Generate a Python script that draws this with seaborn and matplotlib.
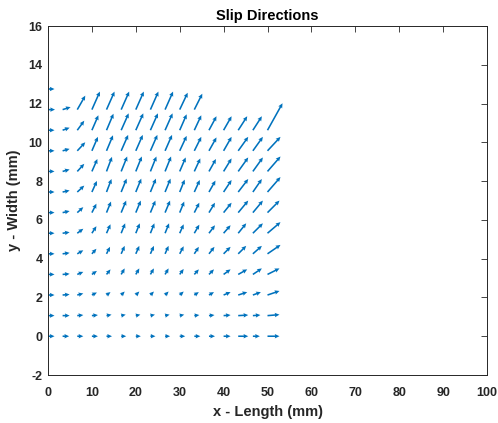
import numpy as np
import matplotlib
matplotlib.use("Agg")
import matplotlib.pyplot as plt
import seaborn as sns

nan = np.nan

# grid (mm)
x_pos = [0.0, 3.33, 6.67, 10.0, 13.33, 16.67, 20.0, 23.33, 26.67, 30.0, 33.33, 36.67, 40.0, 43.33, 46.67, 50.0]
y_pos = [0.0, 1.0625, 2.125, 3.1875, 4.25, 5.3125, 6.375, 7.4375, 8.5, 9.5625, 10.625, 11.6875, 12.75]

# slip direction components (as displayed, mm) — rows follow y_pos, columns follow x_pos
U = [
    [1.48,1.48,1.37,1.37,1.25,1.14,1.14,1.14,1.14,1.25,1.37,1.37,1.59,2.28,1.59,2.73],
    [1.48,1.59,1.37,1.37,1.14,1.03,1.03,1.03,1.03,1.03,1.14,1.25,1.59,2.28,1.71,2.73],
    [1.48,1.59,1.37,1.14,0.91,0.80,0.80,0.80,0.80,0.91,1.03,1.14,1.59,2.05,1.82,2.73],
    [1.48,1.59,1.37,1.14,0.91,0.80,0.80,0.80,0.80,0.91,1.03,1.14,1.59,2.05,2.05,2.73],
    [1.48,1.59,1.37,1.03,0.80,0.80,0.80,0.80,0.80,0.91,1.03,1.25,1.59,1.82,2.05,2.96],
    [1.48,1.59,1.37,1.03,0.91,0.91,0.91,0.91,0.91,0.91,1.14,1.37,1.59,1.82,2.28,2.96],
    [1.48,1.59,1.37,1.03,1.03,1.14,1.14,1.14,1.14,1.03,1.14,1.37,1.82,2.28,2.28,2.73],
    [1.48,1.59,1.59,1.14,1.14,1.25,1.25,1.25,1.25,1.14,1.25,1.48,1.82,2.28,2.05,2.96],
    [1.48,1.59,1.59,1.25,1.25,1.37,1.37,1.37,1.37,1.37,1.37,1.59,1.82,2.28,2.28,2.96],
    [1.48,1.59,1.82,1.37,1.48,1.59,1.59,1.59,1.59,1.59,1.59,1.71,1.82,2.28,2.28,2.96],
    [1.48,1.59,1.59,1.48,1.59,1.71,1.71,1.71,1.71,1.59,1.59,1.71,1.82,2.05,2.05,3.42],
    [1.59,1.82,1.82,1.82,1.82,1.82,1.82,1.82,1.82,1.82,1.82,nan,nan,nan,nan,nan],
    [1.48,nan,nan,nan,nan,nan,nan,nan,nan,nan,nan,nan,nan,nan,nan,nan],
]
V = [
    [0,0,0,0,0,0,0,0,0,0,0,0,0,0,0,0],
    [0,0,0.03,0.03,0.05,0.05,0.05,0.05,0.05,0.05,0.03,0.03,0.03,0.03,0.03,0.05],
    [0,0.03,0.08,0.13,0.15,0.18,0.18,0.18,0.18,0.18,0.15,0.15,0.15,0.15,0.15,0.21],
    [0,0.03,0.13,0.18,0.26,0.31,0.31,0.31,0.31,0.28,0.26,0.26,0.26,0.26,0.31,0.31],
    [0,0.05,0.18,0.26,0.36,0.41,0.41,0.41,0.41,0.39,0.36,0.36,0.36,0.41,0.41,0.46],
    [0,0.05,0.23,0.36,0.46,0.51,0.51,0.51,0.51,0.46,0.44,0.41,0.41,0.51,0.51,0.57],
    [0,0.08,0.28,0.46,0.57,0.62,0.62,0.62,0.62,0.57,0.51,0.51,0.51,0.62,0.62,0.62],
    [0,0.08,0.33,0.57,0.67,0.69,0.69,0.69,0.69,0.64,0.62,0.59,0.62,0.67,0.67,0.77],
    [0,0.10,0.39,0.64,0.75,0.77,0.77,0.77,0.77,0.72,0.67,0.64,0.67,0.72,0.72,0.77],
    [0,0.10,0.44,0.72,0.80,0.82,0.82,0.82,0.82,0.77,0.72,0.69,0.72,0.72,0.72,0.72],
    [0,0.13,0.49,0.77,0.85,0.87,0.87,0.87,0.87,0.82,0.77,0.72,0.72,0.72,0.72,1.39],
    [0,0.13,0.72,0.93,0.93,0.93,0.93,0.93,0.93,0.87,0.82,nan,nan,nan,nan,nan],
    [0,nan,nan,nan,nan,nan,nan,nan,nan,nan,nan,nan,nan,nan,nan,nan],
]

x_ticks = [0, 10, 20, 30, 40, 50, 60, 70, 80, 90, 100]
y_ticks = [-2, 0, 2, 4, 6, 8, 10, 12, 14, 16]

sns.set_style("white")
plt.rcParams['font.family'] = ['Liberation Sans', 'DejaVu Sans']
plt.rcParams['axes.unicode_minus'] = False

fig = plt.figure(figsize=(4.98, 4.23), dpi=100)
ax = fig.add_axes([48/498, 1-375/423, (487-48)/498, (375-26)/423])

X, Y = np.meshgrid(x_pos, y_pos)
Uarr = np.array(U, dtype=float)
Varr = np.array(V, dtype=float)
ax.quiver(X, Y, Uarr, Varr, angles='xy', scale_units='xy', scale=1,
          color='#0072BD', width=0.0036, headwidth=2.8, headlength=3.0,
          headaxislength=2.7, minlength=0.1)

ax.set_xlim(0, 100)
ax.set_ylim(-2, 16)
ax.set_xticks(x_ticks)
ax.set_yticks(y_ticks)
dark = '#262626'
ax.tick_params(direction='in', length=4, width=0.6, colors=dark, labelsize=9,
               top=True, right=True, pad=4)
ax.tick_params(axis='x', pad=9)
for lab in ax.get_xticklabels() + ax.get_yticklabels():
    lab.set_fontweight('bold')
for s in ax.spines.values():
    s.set_color(dark)
    s.set_linewidth(0.7)

ax.set_title('Slip Directions', fontsize=10.5, fontweight='bold', color='black', pad=4)
ax.set_xlabel('x - Length (mm)', fontsize=10.5, fontweight='bold', color=dark, labelpad=4)
ax.set_ylabel('y - Width (mm)', fontsize=10.5, fontweight='bold', color=dark, labelpad=5)

fig.savefig('out.png', dpi=100, facecolor='white')
